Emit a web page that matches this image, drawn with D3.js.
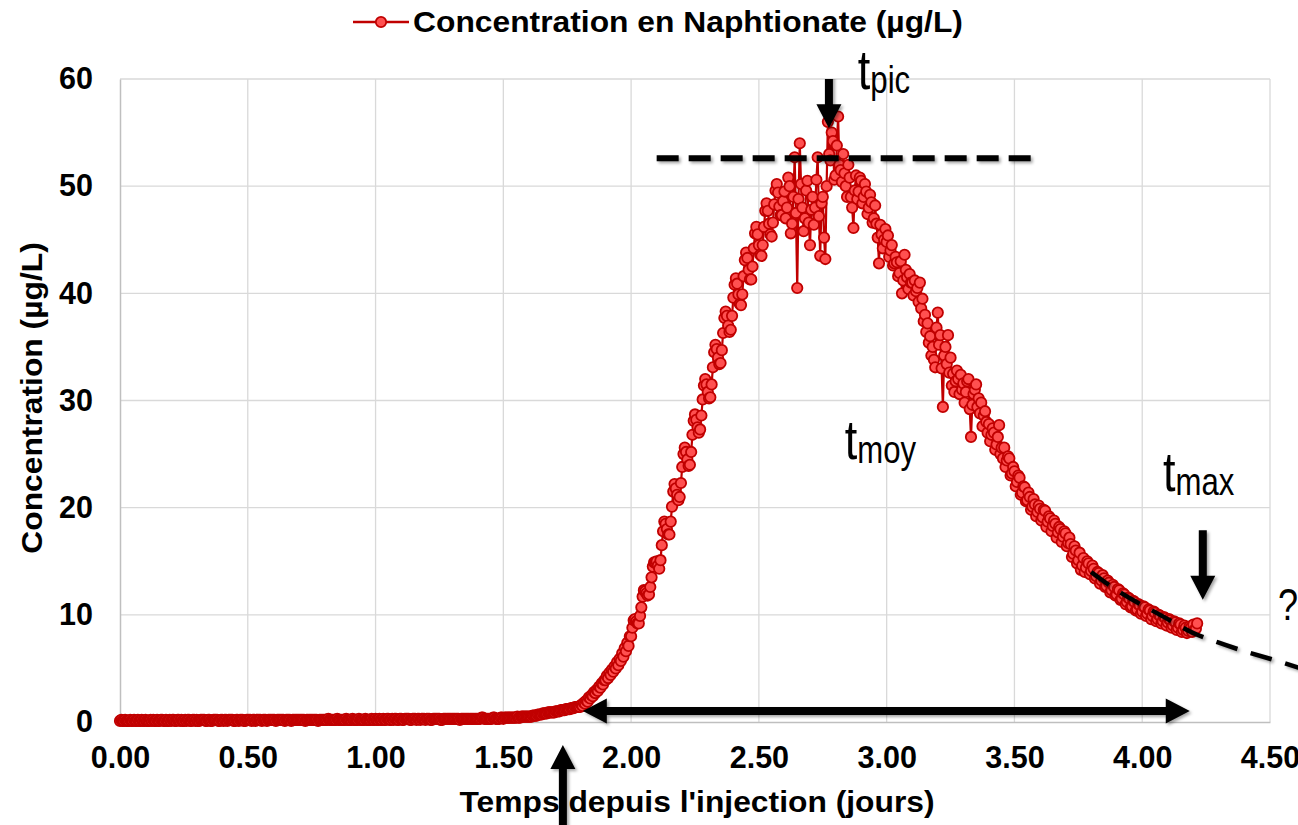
<!DOCTYPE html>
<html>
<head>
<meta charset="utf-8">
<script src="https://cdn.jsdelivr.net/npm/d3@7"></script>
<style>
  body { margin: 0; background: #fff; }
  svg { display: block; font-family: "Liberation Sans", Arial, sans-serif; }
  .axis text { font-size: 30.5px; font-weight: bold; fill: #000; }
  .axis path { stroke: #bfbfbf; stroke-width: 1.5; }
  .grid line { stroke: #d9d9d9; stroke-width: 1.3; }
  .label-text { font-size: 30px; font-weight: bold; fill: #000; }
  .note { fill: #000; }
</style>
</head>
<body>
<script>
var xTicks = [0, 0.5, 1, 1.5, 2, 2.5, 3, 3.5, 4, 4.5];
var yTicks = [0, 10, 20, 30, 40, 50, 60];

var seriesName = "Concentration en Naphtionate (µg/L)";
var xTitle = "Temps depuis l'injection (jours)";
var yTitle = "Concentration (µg/L)";

// days since injection
var sampleDays = [
  0.000,0.005,0.010,0.015,0.020,0.025,0.030,0.035,0.040,0.045,0.050,0.055,0.060,0.065,0.070,0.075,0.080,0.085,0.090,0.095,
  0.100,0.105,0.110,0.115,0.120,0.125,0.130,0.135,0.140,0.145,0.150,0.155,0.160,0.165,0.170,0.175,0.180,0.185,0.190,0.195,
  0.200,0.205,0.210,0.215,0.220,0.225,0.230,0.235,0.240,0.245,0.250,0.255,0.260,0.265,0.270,0.275,0.280,0.285,0.290,0.295,
  0.300,0.305,0.310,0.315,0.320,0.325,0.330,0.335,0.340,0.345,0.350,0.355,0.360,0.365,0.370,0.375,0.380,0.385,0.390,0.395,
  0.400,0.405,0.410,0.415,0.420,0.425,0.430,0.435,0.440,0.445,0.450,0.455,0.460,0.465,0.470,0.475,0.480,0.485,0.490,0.495,
  0.500,0.505,0.510,0.515,0.520,0.525,0.530,0.535,0.540,0.545,0.550,0.555,0.560,0.565,0.570,0.575,0.580,0.585,0.590,0.595,
  0.600,0.605,0.610,0.615,0.620,0.625,0.630,0.635,0.640,0.645,0.650,0.655,0.660,0.665,0.670,0.675,0.680,0.685,0.690,0.695,
  0.700,0.705,0.710,0.715,0.720,0.725,0.730,0.735,0.740,0.745,0.750,0.755,0.760,0.765,0.770,0.775,0.780,0.785,0.790,0.795,
  0.800,0.805,0.810,0.815,0.820,0.825,0.830,0.835,0.840,0.845,0.850,0.855,0.860,0.865,0.870,0.875,0.880,0.885,0.890,0.895,
  0.900,0.905,0.910,0.915,0.920,0.925,0.930,0.935,0.940,0.945,0.950,0.955,0.960,0.965,0.970,0.975,0.980,0.985,0.990,0.995,
  1.000,1.005,1.010,1.015,1.020,1.025,1.030,1.035,1.040,1.045,1.050,1.055,1.060,1.065,1.070,1.075,1.080,1.085,1.090,1.095,
  1.100,1.105,1.110,1.115,1.120,1.125,1.130,1.135,1.140,1.145,1.150,1.155,1.160,1.165,1.170,1.175,1.180,1.185,1.190,1.195,
  1.200,1.205,1.210,1.215,1.220,1.225,1.230,1.235,1.240,1.245,1.250,1.255,1.260,1.265,1.270,1.275,1.280,1.285,1.290,1.295,
  1.300,1.305,1.310,1.315,1.320,1.325,1.330,1.335,1.340,1.345,1.350,1.355,1.360,1.365,1.370,1.375,1.380,1.385,1.390,1.395,
  1.400,1.405,1.410,1.415,1.420,1.425,1.430,1.435,1.440,1.445,1.450,1.455,1.460,1.465,1.470,1.475,1.480,1.485,1.490,1.495,
  1.500,1.505,1.510,1.515,1.520,1.525,1.530,1.535,1.540,1.545,1.550,1.555,1.560,1.565,1.570,1.575,1.580,1.585,1.590,1.595,
  1.600,1.605,1.610,1.615,1.620,1.625,1.630,1.635,1.640,1.645,1.650,1.655,1.660,1.665,1.670,1.675,1.680,1.685,1.690,1.695,
  1.700,1.705,1.710,1.715,1.720,1.725,1.730,1.735,1.740,1.745,1.750,1.755,1.760,1.765,1.770,1.775,1.780,1.785,1.790,1.795,
  1.800,1.805,1.810,1.815,1.820,1.825,1.830,1.835,1.840,1.845,1.850,1.855,1.860,1.865,1.870,1.875,1.880,1.885,1.890,1.895,
  1.900,1.905,1.910,1.915,1.920,1.925,1.930,1.935,1.940,1.945,1.950,1.955,1.960,1.965,1.970,1.975,1.980,1.985,1.990,1.995,
  2.000,2.005,2.010,2.015,2.020,2.025,2.030,2.035,2.040,2.045,2.050,2.055,2.060,2.065,2.070,2.075,2.080,2.085,2.090,2.095,
  2.100,2.105,2.110,2.115,2.120,2.125,2.130,2.135,2.140,2.145,2.150,2.155,2.160,2.165,2.170,2.175,2.180,2.185,2.190,2.195,
  2.200,2.205,2.210,2.215,2.220,2.225,2.230,2.235,2.240,2.245,2.250,2.255,2.260,2.265,2.270,2.275,2.280,2.285,2.290,2.295,
  2.300,2.305,2.310,2.315,2.320,2.325,2.330,2.335,2.340,2.345,2.350,2.355,2.360,2.365,2.370,2.375,2.380,2.385,2.390,2.395,
  2.400,2.405,2.410,2.415,2.420,2.425,2.430,2.435,2.440,2.445,2.450,2.455,2.460,2.465,2.470,2.475,2.480,2.485,2.490,2.495,
  2.500,2.505,2.510,2.515,2.520,2.525,2.530,2.535,2.540,2.545,2.550,2.555,2.560,2.565,2.570,2.575,2.580,2.585,2.590,2.595,
  2.600,2.605,2.610,2.615,2.620,2.625,2.630,2.635,2.640,2.645,2.650,2.655,2.660,2.665,2.670,2.675,2.680,2.685,2.690,2.695,
  2.700,2.705,2.710,2.715,2.720,2.725,2.730,2.735,2.740,2.745,2.750,2.755,2.760,2.765,2.770,2.775,2.780,2.785,2.790,2.795,
  2.800,2.805,2.810,2.815,2.820,2.825,2.830,2.835,2.840,2.845,2.850,2.855,2.860,2.865,2.870,2.875,2.880,2.885,2.890,2.895,
  2.900,2.905,2.910,2.915,2.920,2.925,2.930,2.935,2.940,2.945,2.950,2.955,2.960,2.965,2.970,2.975,2.980,2.985,2.990,2.995,
  3.000,3.005,3.010,3.015,3.020,3.025,3.030,3.035,3.040,3.045,3.050,3.055,3.060,3.065,3.070,3.075,3.080,3.085,3.090,3.095,
  3.100,3.105,3.110,3.115,3.120,3.125,3.130,3.135,3.140,3.145,3.150,3.155,3.160,3.165,3.170,3.175,3.180,3.185,3.190,3.195,
  3.200,3.205,3.210,3.215,3.220,3.225,3.230,3.235,3.240,3.245,3.250,3.255,3.260,3.265,3.270,3.275,3.280,3.285,3.290,3.295,
  3.300,3.305,3.310,3.315,3.320,3.325,3.330,3.335,3.340,3.345,3.350,3.355,3.360,3.365,3.370,3.375,3.380,3.385,3.390,3.395,
  3.400,3.405,3.410,3.415,3.420,3.425,3.430,3.435,3.440,3.445,3.450,3.455,3.460,3.465,3.470,3.475,3.480,3.485,3.490,3.495,
  3.500,3.505,3.510,3.515,3.520,3.525,3.530,3.535,3.540,3.545,3.550,3.555,3.560,3.565,3.570,3.575,3.580,3.585,3.590,3.595,
  3.600,3.605,3.610,3.615,3.620,3.625,3.630,3.635,3.640,3.645,3.650,3.655,3.660,3.665,3.670,3.675,3.680,3.685,3.690,3.695,
  3.700,3.705,3.710,3.715,3.720,3.725,3.730,3.735,3.740,3.745,3.750,3.755,3.760,3.765,3.770,3.775,3.780,3.785,3.790,3.795,
  3.800,3.805,3.810,3.815,3.820,3.825,3.830,3.835,3.840,3.845,3.850,3.855,3.860,3.865,3.870,3.875,3.880,3.885,3.890,3.895,
  3.900,3.905,3.910,3.915,3.920,3.925,3.930,3.935,3.940,3.945,3.950,3.955,3.960,3.965,3.970,3.975,3.980,3.985,3.990,3.995,
  4.000,4.005,4.010,4.015,4.020,4.025,4.030,4.035,4.040,4.045,4.050,4.055,4.060,4.065,4.070,4.075,4.080,4.085,4.090,4.095,
  4.100,4.105,4.110,4.115,4.120,4.125,4.130,4.135,4.140,4.145,4.150,4.155,4.160,4.165,4.170,4.175,4.180,4.185,4.190,4.195,
  4.200,4.205,4.210,4.215
];

// µg/L
var concentration = [
  0.1,0.2,0.1,0.1,0.2,0.1,0.1,0.1,0.2,0.1,0.1,0.2,0.1,0.1,0.2,0.1,0.1,0.2,0.1,0.1,
  0.2,0.1,0.1,0.1,0.2,0.1,0.2,0.1,0.1,0.2,0.1,0.1,0.2,0.2,0.1,0.1,0.2,0.1,0.1,0.2,
  0.1,0.2,0.2,0.1,0.1,0.2,0.2,0.1,0.2,0.1,0.1,0.2,0.1,0.2,0.2,0.1,0.1,0.2,0.2,0.1,
  0.2,0.1,0.1,0.2,0.2,0.2,0.2,0.1,0.1,0.2,0.2,0.1,0.1,0.2,0.2,0.2,0.2,0.1,0.1,0.2,
  0.2,0.1,0.2,0.2,0.1,0.2,0.2,0.2,0.2,0.1,0.1,0.2,0.2,0.1,0.2,0.2,0.2,0.1,0.1,0.2,
  0.2,0.2,0.2,0.1,0.2,0.2,0.1,0.2,0.2,0.2,0.2,0.1,0.2,0.2,0.2,0.1,0.2,0.2,0.2,0.2,
  0.2,0.2,0.1,0.2,0.2,0.2,0.2,0.2,0.2,0.1,0.2,0.2,0.2,0.2,0.1,0.2,0.2,0.2,0.2,0.2,
  0.2,0.2,0.2,0.2,0.2,0.1,0.2,0.2,0.2,0.2,0.2,0.2,0.2,0.2,0.2,0.1,0.2,0.2,0.2,0.2,
  0.2,0.2,0.2,0.3,0.2,0.2,0.2,0.2,0.2,0.2,0.3,0.2,0.2,0.2,0.2,0.2,0.2,0.3,0.2,0.2,
  0.2,0.2,0.3,0.2,0.2,0.2,0.2,0.3,0.2,0.2,0.2,0.2,0.3,0.2,0.2,0.2,0.2,0.3,0.2,0.2,
  0.3,0.2,0.2,0.3,0.2,0.2,0.3,0.2,0.2,0.3,0.3,0.2,0.2,0.3,0.2,0.3,0.3,0.2,0.2,0.3,
  0.3,0.2,0.2,0.3,0.3,0.3,0.3,0.2,0.2,0.3,0.3,0.3,0.2,0.3,0.3,0.2,0.3,0.3,0.3,0.2,
  0.3,0.3,0.3,0.2,0.2,0.3,0.3,0.3,0.3,0.3,0.3,0.2,0.2,0.3,0.3,0.3,0.3,0.3,0.3,0.3,
  0.3,0.3,0.3,0.3,0.3,0.3,0.2,0.3,0.3,0.3,0.3,0.3,0.3,0.3,0.3,0.3,0.3,0.3,0.3,0.3,
  0.3,0.3,0.3,0.4,0.4,0.3,0.3,0.3,0.3,0.3,0.3,0.3,0.4,0.4,0.3,0.3,0.3,0.3,0.4,0.4,
  0.3,0.4,0.4,0.4,0.4,0.4,0.4,0.4,0.4,0.4,0.4,0.5,0.4,0.4,0.5,0.5,0.5,0.5,0.5,0.5,
  0.5,0.5,0.5,0.6,0.6,0.6,0.6,0.7,0.7,0.7,0.7,0.8,0.8,0.8,0.8,0.9,0.9,0.9,0.9,0.9,
  0.9,1.0,1.0,1.0,1.0,1.1,1.1,1.1,1.1,1.2,1.2,1.2,1.2,1.3,1.3,1.3,1.4,1.4,1.4,1.4,
  1.4,1.6,1.5,1.8,1.7,2.0,1.9,2.3,2.2,2.5,2.4,2.8,2.7,3.0,2.9,3.3,3.2,3.6,3.5,3.9,
  3.9,4.3,4.1,4.6,4.4,4.9,4.7,5.2,5.0,5.6,5.3,5.9,5.7,6.4,6.1,6.9,6.6,7.4,7.1,8.0,
  8.0,8.8,9.5,9.6,9.4,9.2,9.2,9.9,10.7,11.7,12.3,12.2,12.0,11.8,11.9,12.6,13.5,14.5,14.9,14.9,
  15.0,14.6,14.3,15.1,16.5,17.8,18.7,18.5,18.0,17.5,17.5,18.7,20.1,21.5,22.2,21.8,21.2,20.7,21.0,22.3,
  23.8,25.0,25.6,25.2,24.5,23.9,24.0,25.2,26.8,28.1,28.7,28.2,27.5,27.0,27.3,28.6,30.1,31.4,32.0,31.5,
  30.8,30.2,30.3,31.5,33.1,34.5,35.2,34.8,34.0,33.4,33.5,34.7,36.3,37.7,38.3,37.9,37.0,36.4,36.6,37.9,
  39.6,40.8,41.4,40.9,39.9,39.0,38.9,39.9,41.6,43.1,43.8,43.3,42.2,41.3,41.3,42.5,44.2,45.6,46.2,45.5,
  44.5,43.6,43.5,44.5,46.2,47.7,48.4,47.7,46.5,45.5,45.3,46.6,48.3,49.6,50.2,49.4,48.1,47.3,47.3,48.6,
  49.5,47.0,48.0,50.8,50.0,45.6,46.5,49.0,52.7,47.5,40.5,48.8,54.0,50.2,48.0,45.8,47.0,49.6,50.5,46.6,
  44.5,47.8,49.0,46.4,48.0,50.6,52.7,47.2,43.5,48.4,49.0,45.2,43.2,50.0,56.0,53.0,52.4,55.0,54.2,50.6,
  51.0,53.8,56.5,52.0,51.5,50.4,53.0,51.2,50.0,49.0,52.0,50.8,49.0,48.0,46.1,49.6,51.0,48.8,49.5,50.8,
  50.5,48.4,49.0,50.2,49.5,47.4,48.0,49.2,48.5,46.6,47.0,48.2,46.5,45.2,42.8,46.4,45.5,44.2,45.0,46.0,
  44.8,45.4,43.4,44.0,44.5,42.6,42.8,43.4,42.9,41.6,41.9,43.0,40.0,41.2,43.6,42.2,41.5,40.4,41.8,41.0,
  41.0,39.8,41.2,40.2,40.5,39.2,41.0,38.6,39.5,37.4,38.0,36.4,37.2,35.4,36.0,34.2,35.0,33.8,33.1,36.8,
  38.2,35.2,36.1,33.0,29.4,34.2,35.0,33.4,36.1,32.6,34.0,31.4,32.5,30.8,31.8,32.8,32.0,30.6,32.4,31.0,
  31.6,29.8,30.8,31.8,32.0,29.2,26.6,29.6,30.6,31.0,31.5,29.4,30.2,28.8,29.8,27.6,28.6,29.0,28.0,27.0,
  27.8,26.2,26.8,27.4,27.0,25.4,25.9,26.6,27.7,25.0,25.6,24.6,25.6,23.8,24.4,24.8,24.6,23.0,23.2,23.8,
  23.4,22.0,22.4,23.0,22.8,21.2,21.4,22.0,21.9,20.6,20.7,21.4,21.0,19.8,20.1,20.8,20.3,19.2,19.6,20.2,
  19.9,18.8,19.1,19.8,19.7,18.2,18.7,19.2,19.0,17.8,18.3,18.8,18.5,17.2,17.7,18.2,18.0,16.8,17.3,17.8,
  17.6,16.4,16.7,17.2,16.6,15.4,15.7,16.4,16.0,14.8,15.1,15.8,14.2,14.6,15.3,14.0,14.4,15.0,14.8,13.8,
  14.1,14.6,14.3,13.4,13.6,14.0,13.9,12.9,13.2,13.7,13.4,12.6,12.7,13.2,13.0,12.1,12.3,12.8,12.6,11.8,
  11.9,12.4,12.3,11.4,11.5,12.0,11.9,11.0,11.2,11.6,11.5,10.7,10.8,11.3,11.2,10.4,10.5,11.0,10.9,10.1,
  10.3,10.8,10.7,9.9,10.1,10.5,10.4,9.6,9.9,10.3,10.2,9.4,9.6,10.0,9.9,9.2,9.4,9.8,9.7,9.0,
  9.3,9.6,9.5,8.8,9.0,9.4,9.3,8.6,8.8,9.2,9.1,8.4,8.6,9.0,8.8,8.3,8.5,8.9,8.8,8.4,
  9.1,8.6,8.7,9.2
];

// hand-drawn tail extrapolation (dashed)
var tailDays = [3.80, 3.90, 4.00, 4.10, 4.20, 4.30, 4.40, 4.50, 4.62];
var tailConc = [14.0, 12.3, 10.9, 9.6, 8.3, 7.4, 6.6, 5.9, 5.0];

// peak level (dashed)
var peakLevel = 52.6;
var peakLevelDays = [2.10, 3.57];

var width = 1150, height = 643;
var margin = {top: 79, right: 28, bottom: 103, left: 120};
var red = "#c00000", pink = "#ff5050";

var dataset = sampleDays.map(function(d, i) {
    return {day: d, value: concentration[i]};
});

var svg = d3.select("body").append("svg")
    .attr("width", width + margin.left + margin.right)
    .attr("height", height + margin.top + margin.bottom);

svg.append("defs").append("filter")
    .attr("id", "shadow")
    .attr("filterUnits", "userSpaceOnUse")
    .attr("x", 0).attr("y", 0)
    .attr("width", 1298).attr("height", 825)
    .append("feDropShadow")
    .attr("dx", 2).attr("dy", 2)
    .attr("stdDeviation", 1.5)
    .attr("flood-color", "#000")
    .attr("flood-opacity", 0.35);

var g = svg.append("g")
    .attr("transform", "translate(" + margin.left + "," + margin.top + ")");

var xScale = d3.scaleLinear().domain([0, 4.5]).range([0, width]);
var yScale = d3.scaleLinear().domain([0, 60]).range([height, 0]);

var grid = g.append("g").attr("class", "grid");
grid.selectAll(".vline")
    .data(xTicks.slice(1))
    .enter().append("line")
    .attr("x1", function(d) { return xScale(d); })
    .attr("x2", function(d) { return xScale(d); })
    .attr("y1", 0).attr("y2", height);
grid.selectAll(".hline")
    .data(yTicks.slice(1))
    .enter().append("line")
    .attr("x1", 0).attr("x2", width)
    .attr("y1", function(d) { return yScale(d); })
    .attr("y2", function(d) { return yScale(d); });

g.append("g")
    .attr("class", "axis")
    .attr("transform", "translate(0," + height + ")")
    .call(d3.axisBottom(xScale).tickValues(xTicks).tickFormat(d3.format(".2f"))
        .tickSize(0).tickPadding(24));

g.append("g")
    .attr("class", "axis")
    .call(d3.axisLeft(yScale).tickValues(yTicks).tickFormat(d3.format("d"))
        .tickSize(0).tickPadding(27));

// series: line under markers
var line = d3.line()
    .x(function(d) { return xScale(d.day); })
    .y(function(d) { return yScale(d.value); });

g.append("path")
    .attr("d", line(dataset))
    .attr("fill", "none")
    .attr("stroke", red)
    .attr("stroke-width", 2.2);

g.selectAll(".dot")
    .data(dataset)
    .enter().append("circle")
    .attr("cx", function(d) { return xScale(d.day); })
    .attr("cy", function(d) { return yScale(d.value); })
    .attr("r", 5.2)
    .attr("fill", pink)
    .attr("stroke", red)
    .attr("stroke-width", 1.8);

// annotations
var notes = g.append("g").attr("filter", "url(#shadow)");

notes.append("line")
    .attr("x1", xScale(peakLevelDays[0]))
    .attr("x2", xScale(peakLevelDays[1]))
    .attr("y1", yScale(peakLevel))
    .attr("y2", yScale(peakLevel))
    .attr("stroke", "#000")
    .attr("stroke-width", 6)
    .attr("stroke-dasharray", "22,10");

var tail = tailDays.map(function(d, i) { return {day: d, value: tailConc[i]}; });
notes.append("path")
    .attr("d", line.curve(d3.curveNatural)(tail))
    .attr("fill", "none")
    .attr("stroke", "#000")
    .attr("stroke-width", 4.5)
    .attr("stroke-dasharray", "22,14");

function arrow(x1, y1, x2, y2, twoHeads) {
    var dx = x2 - x1, dy = y2 - y1, len = Math.sqrt(dx * dx + dy * dy);
    var ux = dx / len, uy = dy / len;
    var s = 4, h = 12.5, hl = 24;
    function p(a, b) { return [x1 + ux * a - uy * b, y1 + uy * a + ux * b]; }
    var pts = twoHeads ? [p(0, 0), p(hl, h), p(hl, s)] : [p(0, s)];
    pts = pts.concat([p(len - hl, s), p(len - hl, h), p(len, 0), p(len - hl, -h), p(len - hl, -s)]);
    pts = pts.concat(twoHeads ? [p(hl, -s), p(hl, -h)] : [p(0, -s)]);
    notes.append("path")
        .attr("d", d3.line()(pts) + "Z")
        .attr("fill", "#000");
}

arrow(xScale(2.774), yScale(60.7), xScale(2.774), yScale(55.4));
arrow(xScale(4.237), yScale(17.9), xScale(4.237), yScale(11.4));
arrow(xScale(1.733), yScale(-10.2), xScale(1.733), yScale(-2.15));
arrow(xScale(1.811), yScale(1.03), xScale(4.186), yScale(1.03), true);

function tLabel(day, value, sub) {
    var t = g.append("text")
        .attr("class", "note")
        .attr("transform", "translate(" + xScale(day) + "," + (yScale(value) - 4) + ") scale(0.82,1)");
    t.append("tspan").attr("font-size", 55).text("t");
    t.append("tspan").attr("font-size", 38).attr("dy", 4).text(sub);
}
tLabel(2.887, 58.67, "pic");
tLabel(2.836, 24.16, "moy");
tLabel(4.081, 21.18, "max");

g.append("text")
    .attr("class", "note")
    .attr("transform", "translate(" + xScale(4.531) + "," + yScale(9.51) + ") scale(0.82,1)")
    .attr("font-size", 44)
    .text("?");

// titles and legend
svg.append("text")
    .attr("class", "label-text")
    .attr("text-anchor", "middle")
    .attr("transform", "translate(697,812) scale(1.06,1)")
    .text(xTitle);

svg.append("text")
    .attr("class", "label-text")
    .attr("text-anchor", "middle")
    .attr("transform", "translate(42,398) rotate(-90) scale(1.06,1)")
    .text(yTitle);

var legend = svg.append("g");
legend.append("line")
    .attr("x1", 353).attr("x2", 409)
    .attr("y1", 22).attr("y2", 22)
    .attr("stroke", red)
    .attr("stroke-width", 2.5);
legend.append("circle")
    .attr("cx", 381).attr("cy", 22)
    .attr("r", 5.2)
    .attr("fill", pink)
    .attr("stroke", red)
    .attr("stroke-width", 1.8);
legend.append("text")
    .attr("class", "label-text")
    .attr("transform", "translate(413,32) scale(1.06,1)")
    .text(seriesName);
</script>
</body>
</html>
